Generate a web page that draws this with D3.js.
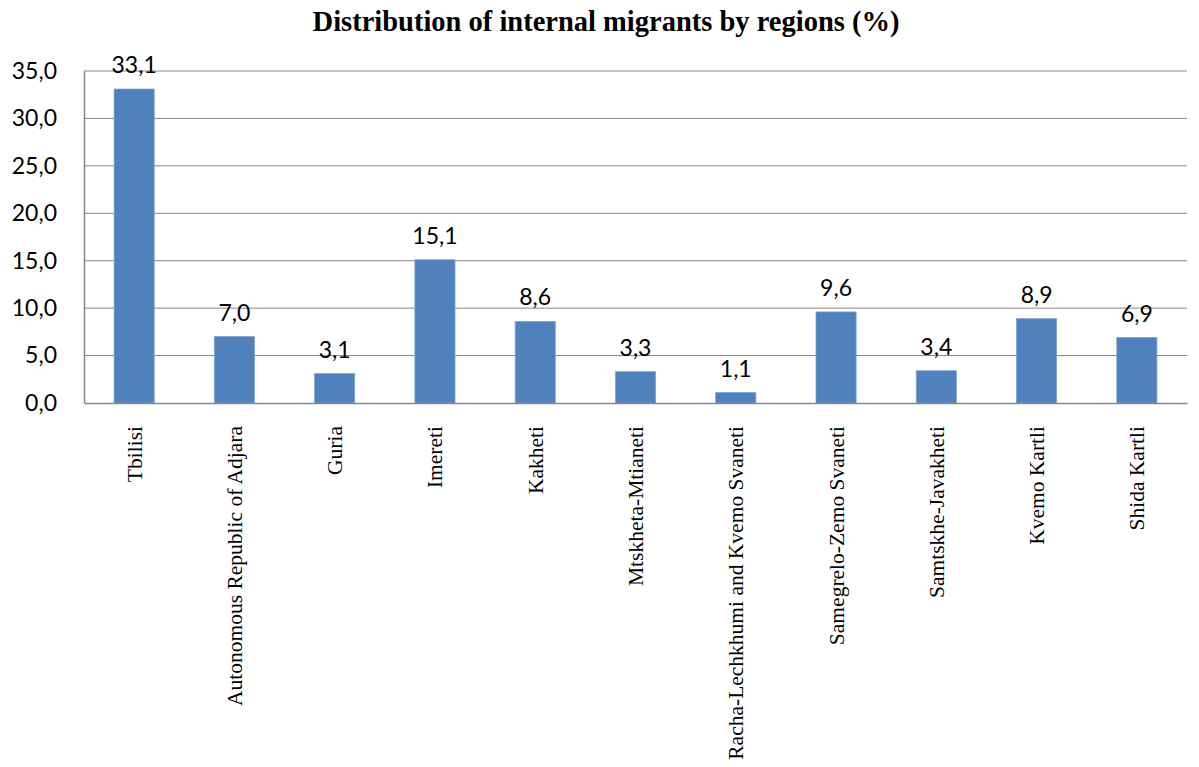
<!DOCTYPE html>
<html>
<head>
<meta charset="utf-8">
<script src="https://cdn.jsdelivr.net/npm/d3@7"></script>
<style>
  body { margin: 0; background: #fff; }
</style>
</head>
<body>
<div id="chart"></div>
<script>
// chart data
var regions = ["Tbilisi", "Autonomous Republic of Adjara", "Guria", "Imereti", "Kakheti",
  "Mtskheta-Mtianeti", "Racha-Lechkhumi and Kvemo Svaneti", "Samegrelo-Zemo Svaneti",
  "Samtskhe-Javakheti", "Kvemo Kartli", "Shida Kartli"];
var shares = [33.1, 7.0, 3.1, 15.1, 8.6, 3.3, 1.1, 9.6, 3.4, 8.9, 6.9];
var yTicks = [0, 5, 10, 15, 20, 25, 30, 35];

var W = 1199, H = 767;
var margin = {top: 71, right: 12, bottom: 364, left: 84},
  width = W - margin.left - margin.right,
  height = H - margin.top - margin.bottom;

var fmt = d3.formatLocale({decimal: ",", thousands: " ", grouping: [3], currency: ["", ""]}).format(".1f");

var svg = d3.select("#chart")
  .append("svg")
  .attr("width", W)
  .attr("height", H);

// title
svg.append("text")
  .attr("x", 606)
  .attr("y", 31)
  .attr("text-anchor", "middle")
  .style("font-family", "'Liberation Serif', 'DejaVu Serif', serif")
  .style("font-weight", "bold")
  .style("font-size", "28.5px")
  .text("Distribution of internal migrants by regions (%)");

var g = svg.append("g")
  .attr("transform", "translate(" + margin.left + "," + margin.top + ")");

var x = d3.scaleBand()
  .domain(regions)
  .range([0, width])
  .paddingInner(0.6)
  .paddingOuter(0.3);

var y = d3.scaleLinear()
  .domain([0, 35])
  .range([height, 0]);

// gridlines
g.append("g")
  .selectAll("line")
  .data(yTicks.filter(d => d > 0))
  .enter().append("line")
    .attr("x1", 0)
    .attr("x2", width)
    .attr("y1", d => y(d))
    .attr("y2", d => y(d))
    .attr("stroke", "#868686")
    .attr("stroke-width", 1);

// Y axis
var yAxis = g.append("g")
  .call(d3.axisLeft(y).tickValues(yTicks).tickSize(0).tickPadding(27).tickFormat(fmt));
yAxis.select(".domain").attr("stroke", "#868686").attr("stroke-width", 1.5);
yAxis.selectAll("text")
  .style("font-family", "Lato, 'Open Sans', sans-serif")
  .style("font-size", "23px")
  .attr("fill", "#000");

// bars
g.selectAll(".bar")
  .data(shares)
  .enter().append("rect")
    .attr("class", "bar")
    .attr("x", (d, i) => x(regions[i]))
    .attr("width", x.bandwidth())
    .attr("y", d => y(d))
    .attr("height", d => height - y(d))
    .attr("fill", "#4F81BD")
    .attr("stroke", "#7FA2D2")
    .attr("stroke-width", 0.8);

// data labels
g.selectAll(".lbl")
  .data(shares)
  .enter().append("text")
    .attr("class", "lbl")
    .attr("x", (d, i) => x(regions[i]) + x.bandwidth() / 2)
    .attr("y", d => y(d) - 16)
    .attr("text-anchor", "middle")
    .style("font-family", "Lato, 'Open Sans', sans-serif")
    .style("font-size", "23px")
    .text(d => fmt(d));

// X axis
var xAxis = g.append("g")
  .attr("transform", "translate(0," + height + ")")
  .call(d3.axisBottom(x).tickSize(0).tickSizeOuter(0));
xAxis.select(".domain").attr("stroke", "#868686").attr("stroke-width", 1.5);
xAxis.selectAll("text")
  .attr("transform", "rotate(-90)")
  .attr("x", -23)
  .attr("y", 0)
  .attr("dy", "0.35em")
  .attr("text-anchor", "end")
  .attr("fill", "#000")
  .style("font-family", "'Liberation Serif', 'DejaVu Serif', serif")
  .style("font-size", "21.5px");
</script>
</body>
</html>
